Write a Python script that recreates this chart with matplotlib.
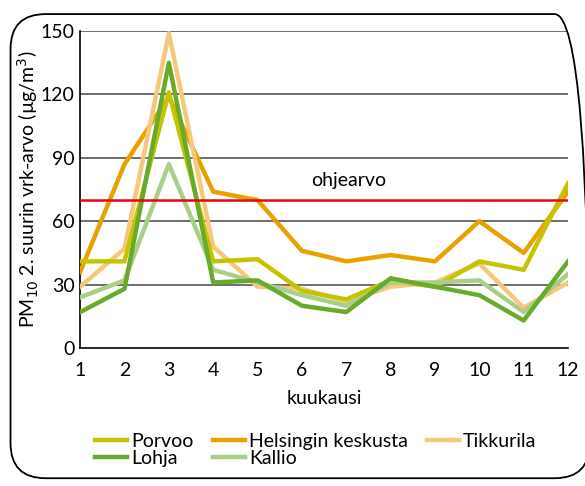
import matplotlib.pyplot as plt
from matplotlib.patches import FancyBboxPatch

plt.rcParams['font.family'] = ['Lato', 'DejaVu Sans']

# data
months = [1, 2, 3, 4, 5, 6, 7, 8, 9, 10, 11, 12]
porvoo = [41, 41, 121, 41, 42, 27, 23, 32, 29, 41, 37, 78]
helsinki = [36, 87, 119, 74, 70, 46, 41, 44, 41, 60, 45, 74]
tikkurila = [29, 47, 149, 48, 29, 28, 22, 29, 31, 40, 19, 31]
lohja = [17, 28, 135, 31, 32, 20, 17, 33, 29, 25, 13, 41]
kallio = [24, 32, 87, 37, 31, 25, 20, 31, 31, 32, 17, 35]
ohjearvo = 70

fig = plt.figure(figsize=(5.85, 4.86), dpi=100)
ax = fig.add_axes([0.137, 0.284, 0.834, 0.652])

# rounded frame around the whole figure
frame = FancyBboxPatch((0.018, 0.016), 0.99, 0.955, boxstyle="round,pad=0,rounding_size=0.06",
                       transform=fig.transFigure, fill=False, edgecolor='black', linewidth=1.3,
                       mutation_aspect=585 / 486, clip_on=False)
fig.patches.append(frame)

for v in [30, 60, 90, 120, 150]:
    ax.axhline(v, color='#555555', linewidth=1.2, zorder=1)

lw = 3.2
ax.plot(months, helsinki, color='#e8a200', linewidth=lw, label='Helsingin keskusta', zorder=3)
ax.plot(months, tikkurila, color='#f4c97c', linewidth=lw, label='Tikkurila', zorder=3)
ax.plot(months, porvoo, color='#c6c400', linewidth=lw, label='Porvoo', zorder=3)
ax.plot(months, kallio, color='#a9cf88', linewidth=lw, label='Kallio', zorder=3)
ax.plot(months, lohja, color='#68aa2c', linewidth=lw, label='Lohja', zorder=3)
ax.axhline(ohjearvo, color='#e30613', linewidth=1.8, zorder=4)
ax.text(7.05, 79.5, 'ohjearvo', fontsize=14, ha='center', va='center')

ax.set_xlim(1, 12)
ax.set_ylim(0, 150)
ax.set_xticks(months)
ax.set_yticks([0, 30, 60, 90, 120, 150])
ax.tick_params(length=0, labelsize=14)
ax.tick_params(axis='x', pad=10)
ax.tick_params(axis='y', pad=4)
for s in ['top', 'right']:
    ax.spines[s].set_visible(False)
for s in ['left', 'bottom']:
    ax.spines[s].set_linewidth(1.2)

ax.set_xlabel('kuukausi', fontsize=14, labelpad=8)
ax.set_ylabel('PM$_{10}$ 2. suurin vrk-arvo (µg/m$^3$)', fontsize=14)
ax.yaxis.set_label_coords(-0.08, 0.5)

h = {l.get_label(): l for l in ax.get_lines() if not l.get_label().startswith('_')}
order = ['Porvoo', 'Lohja', 'Helsingin keskusta', 'Kallio', 'Tikkurila']
fig.legend([h[k] for k in order], order, ncol=3, loc='center', bbox_to_anchor=(0.54, 0.074),
           frameon=False, fontsize=14, handlelength=1.65, handletextpad=0.2,
           columnspacing=1.0, labelspacing=0.0)

fig.savefig('out.png', dpi=100)
